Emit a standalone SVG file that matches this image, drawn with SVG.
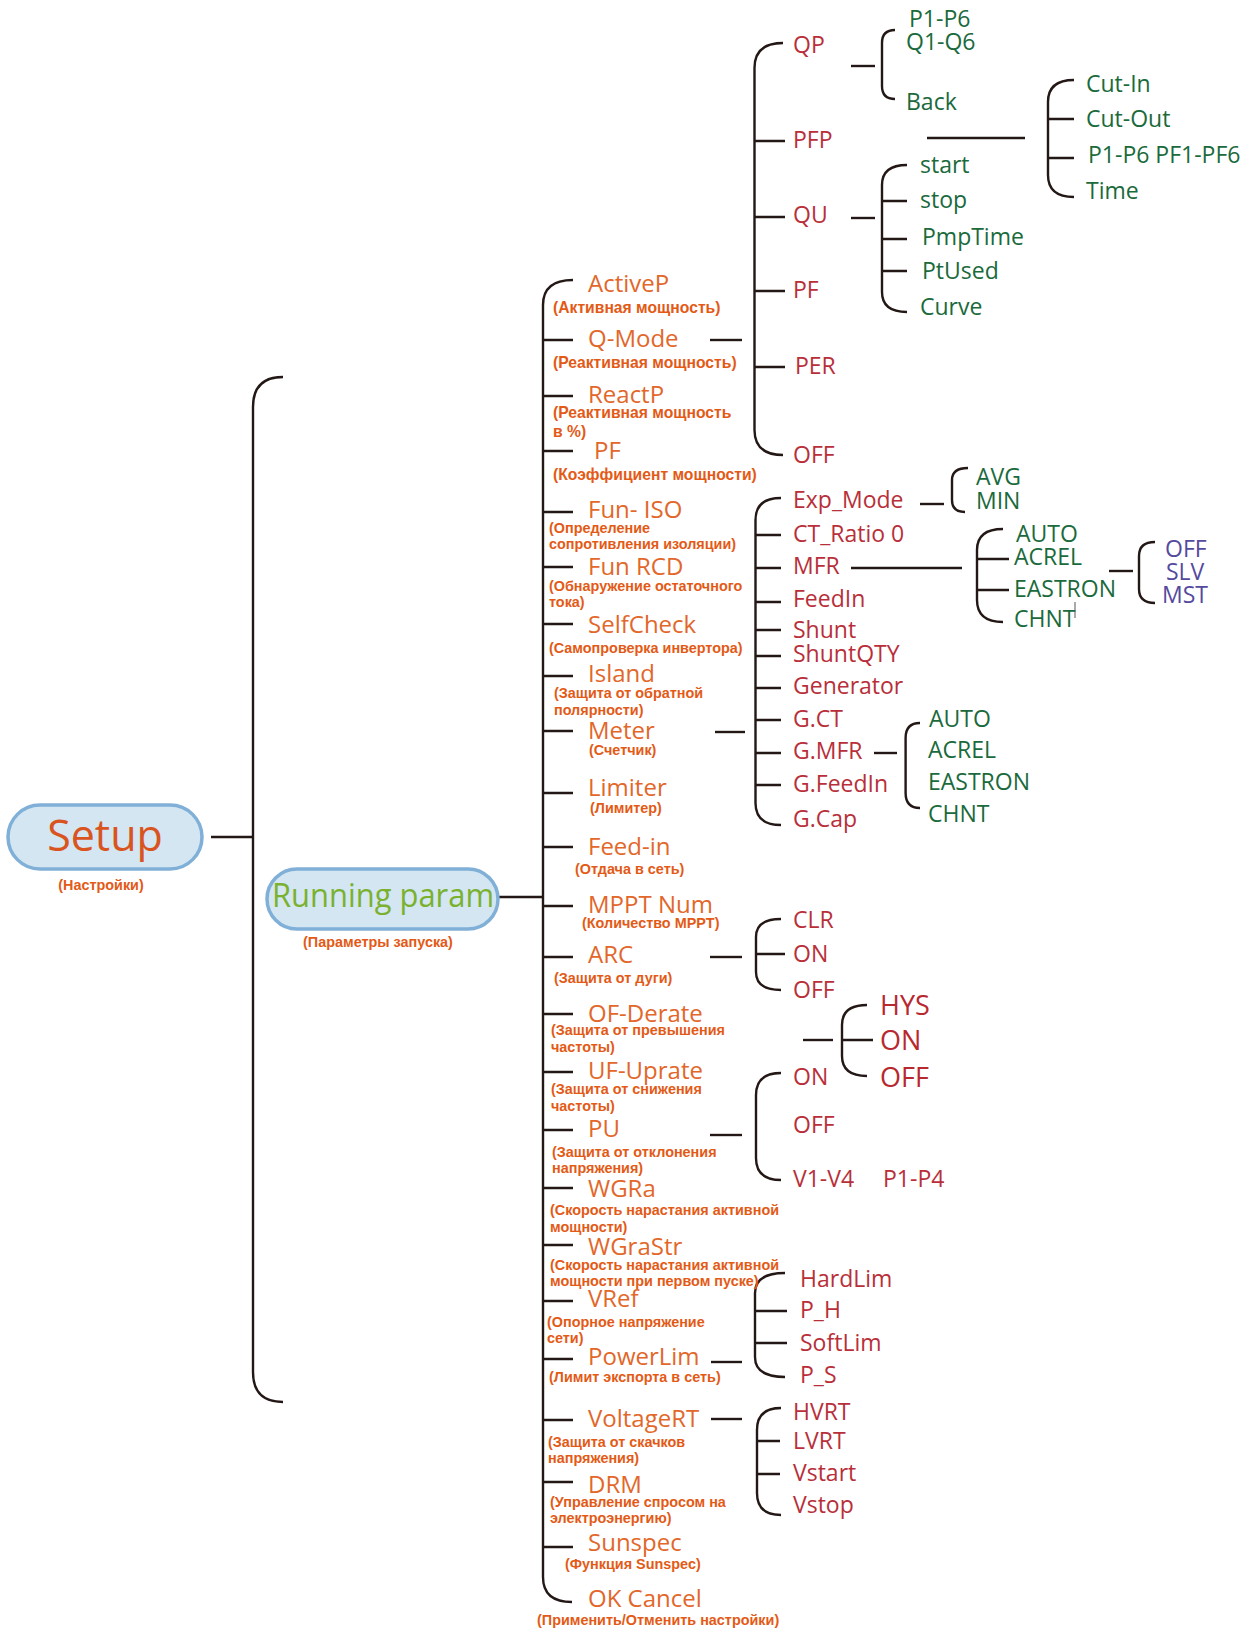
<svg xmlns="http://www.w3.org/2000/svg" width="1259" height="1629" viewBox="0 0 1259 1629">
<style>
.ln{fill:none;stroke:#231815;stroke-width:2.4;stroke-linecap:butt}
.pill{fill:#d3e6f1;stroke:#80b0d8;stroke-width:3.5}
.l2{font-family:"Open Sans","Noto Sans",sans-serif;font-size:24px;fill:#e2672a}
.sub{font-family:"Liberation Sans",Arial,sans-serif;font-size:14.4px;font-weight:bold;fill:#e35a16}
.big{font-size:15.7px}
.r{font-family:"Open Sans","Noto Sans",sans-serif;font-size:23px;fill:#b82f3a}
.rb{font-family:"Open Sans","Noto Sans",sans-serif;font-size:27px;fill:#b8282f}
.g{font-family:"Open Sans","Noto Sans",sans-serif;font-size:23px;fill:#1a6a3c}
.p{font-family:"Open Sans","Noto Sans",sans-serif;font-size:23px;fill:#55499e}
</style>
<rect width="1259" height="1629" fill="#ffffff"/>
<g id="connectors">
<path class="ln" d="M211 837H253"/>
<path class="ln" d="M283 377Q253 377 253 407V1372Q253 1402 283 1402"/>
<path class="ln" d="M498 897H543"/>
<path class="ln" d="M573 280Q543 280 543 305V1577Q543 1602 572 1602"/>
<path class="ln" d="M543 340H573M543 396H573M543 451H573M543 512H573M543 567H573M543 624H573M543 676H573M543 731H573M543 793H573M543 847H573M543 906H573M543 957H573M543 1014H573M543 1072H573M543 1130H573M543 1188H573M543 1245H573M543 1301H573M543 1359H573M543 1420H573M543 1482H573M543 1547H573"/>
<path class="ln" d="M710 340H742"/>
<path class="ln" d="M783 43Q754.5 43 754.5 68V430Q754.5 455 783 455"/>
<path class="ln" d="M754.5 141H785M754.5 217H785M754.5 291H785M754.5 367H785"/>
<path class="ln" d="M851 66H875"/>
<path class="ln" d="M895 30Q882 30 882 43V86Q882 99 895 99"/>
<path class="ln" d="M927 138H1025"/>
<path class="ln" d="M1074 80Q1048 80 1048 102V175Q1048 197 1074 197M1048 119H1074M1048 158H1074"/>
<path class="ln" d="M851 218H875"/>
<path class="ln" d="M907 165Q882 165 882 185V292Q882 312 907 312M882 201H907M882 239H907M882 271H907"/>
<path class="ln" d="M715 732H745"/>
<path class="ln" d="M781 498Q755.5 498 755.5 520V803Q755.5 825 781 825"/>
<path class="ln" d="M755.5 535H781M755.5 568H781M755.5 602H781M755.5 630H781M755.5 656H781M755.5 688H781M755.5 720H781M755.5 753H781M755.5 785H781"/>
<path class="ln" d="M920 504H944"/>
<path class="ln" d="M968 468Q952 468 952 480V500Q952 512 965 512"/>
<path class="ln" d="M851 568H962"/>
<path class="ln" d="M1003 529Q977 529 977 550V600Q977 622 1003 622M977 559H1009M977 590H1009"/>
<path class="ln" d="M1109 571H1133"/>
<path class="ln" d="M1155 542Q1139 542 1139 556V589Q1139 603 1155 603"/>
<path d="M1075 602V618" stroke="#555" stroke-width="1" fill="none"/>
<path class="ln" d="M874 753H897"/>
<path class="ln" d="M920 723Q905.6 723 905.6 738V793Q905.6 808 920 808"/>
<path class="ln" d="M710 957H742"/>
<path class="ln" d="M781 919Q756 919 756 937V972Q756 990 781 990M756 954H785"/>
<path class="ln" d="M803 1040H833"/>
<path class="ln" d="M867 1005Q842 1005 842 1025V1056Q842 1076 867 1076M842 1040H873"/>
<path class="ln" d="M710 1135H742"/>
<path class="ln" d="M781 1073Q756 1073 756 1095V1158Q756 1180 781 1180"/>
<path class="ln" d="M711 1362H742"/>
<path class="ln" d="M785 1273Q755 1273 755 1293V1357Q755 1377 785 1377M755 1311H787M755 1343H787"/>
<path class="ln" d="M711 1419H742"/>
<path class="ln" d="M781 1408Q757 1408 757 1430V1493Q757 1515 781 1515M757 1441H780M757 1474H780"/>
</g>
<g id="setup">
<rect class="pill" x="8" y="805" width="194" height="64" rx="32"/>
<text x="105" y="851" text-anchor="middle" font-family="Open Sans, Noto Sans, sans-serif" font-size="43" fill="#d9541e">Setup</text>
<text class="sub" x="101" y="890" text-anchor="middle" font-size="16.5">(Настройки)</text>
</g>
<g id="running-param">
<rect class="pill" x="267" y="869" width="231" height="60" rx="30"/>
<text x="272" y="907" textLength="222" lengthAdjust="spacingAndGlyphs" font-family="Open Sans, Noto Sans, sans-serif" font-size="32" fill="#7ab12f">Running param</text>
<text class="sub" x="378" y="947" text-anchor="middle" font-size="16.8" fill="#7ab12f">(Параметры запуска)</text>
</g>
<g id="activep"><text class="l2" x="588" y="292">ActiveP</text><text class="sub big" x="553" y="313">(Активная мощность)</text></g>
<g id="q-mode"><text class="l2" x="588" y="347">Q-Mode</text><text class="sub big" x="553" y="368">(Реактивная мощность)</text></g>
<g id="reactp"><text class="l2" x="588" y="403">ReactP</text><text class="sub big" x="553" y="418">(Реактивная мощность</text><text class="sub big" x="553" y="437">в %)</text></g>
<g id="pf"><text class="l2" x="594" y="459">PF</text><text class="sub big" x="553" y="480">(Коэффициент мощности)</text></g>
<g id="fun-iso"><text class="l2" x="588" y="518">Fun- ISO</text><text class="sub" x="549" y="533">(Определение</text><text class="sub" x="549" y="549">сопротивления изоляции)</text></g>
<g id="fun-rcd"><text class="l2" x="588" y="575">Fun RCD</text><text class="sub" x="549" y="591">(Обнаружение остаточного</text><text class="sub" x="549" y="607">тока)</text></g>
<g id="selfcheck"><text class="l2" x="588" y="633">SelfCheck</text><text class="sub" x="549" y="653">(Самопроверка инвертора)</text></g>
<g id="island"><text class="l2" x="588" y="682">Island</text><text class="sub" x="554" y="698">(Защита от обратной</text><text class="sub" x="554" y="715">полярности)</text></g>
<g id="meter"><text class="l2" x="588" y="739">Meter</text><text class="sub" x="589" y="755">(Счетчик)</text></g>
<g id="limiter"><text class="l2" x="588" y="796">Limiter</text><text class="sub" x="590" y="813">(Лимитер)</text></g>
<g id="feed-in"><text class="l2" x="588" y="855">Feed-in</text><text class="sub" x="575" y="874">(Отдача в сеть)</text></g>
<g id="mppt-num"><text class="l2" x="588" y="913">MPPT Num</text><text class="sub" x="582" y="928">(Количество MPPT)</text></g>
<g id="arc"><text class="l2" x="588" y="963">ARC</text><text class="sub" x="554" y="983">(Защита от дуги)</text></g>
<g id="of-derate"><text class="l2" x="588" y="1022">OF-Derate</text><text class="sub" x="551" y="1035">(Защита от превышения</text><text class="sub" x="551" y="1052">частоты)</text></g>
<g id="uf-uprate"><text class="l2" x="588" y="1079">UF-Uprate</text><text class="sub" x="551" y="1094">(Защита от снижения</text><text class="sub" x="551" y="1111">частоты)</text></g>
<g id="pu"><text class="l2" x="588" y="1137">PU</text><text class="sub" x="552" y="1157">(Защита от отклонения</text><text class="sub" x="552" y="1173">напряжения)</text></g>
<g id="wgra"><text class="l2" x="588" y="1197">WGRa</text><text class="sub" x="550" y="1215">(Скорость нарастания активной</text><text class="sub" x="550" y="1232">мощности)</text></g>
<g id="wgrastr"><text class="l2" x="588" y="1255">WGraStr</text><text class="sub" x="550" y="1270">(Скорость нарастания активной</text><text class="sub" x="550" y="1286">мощности при первом пуске)</text></g>
<g id="vref"><text class="l2" x="588" y="1307">VRef</text><text class="sub" x="547" y="1327">(Опорное напряжение</text><text class="sub" x="547" y="1343">сети)</text></g>
<g id="powerlim"><text class="l2" x="588" y="1365">PowerLim</text><text class="sub" x="549" y="1382">(Лимит экспорта в сеть)</text></g>
<g id="voltagert"><text class="l2" x="588" y="1427">VoltageRT</text><text class="sub" x="548" y="1447">(Защита от скачков</text><text class="sub" x="548" y="1463">напряжения)</text></g>
<g id="drm"><text class="l2" x="588" y="1493">DRM</text><text class="sub" x="550" y="1507">(Управление спросом на</text><text class="sub" x="550" y="1523">электроэнергию)</text></g>
<g id="sunspec"><text class="l2" x="588" y="1551">Sunspec</text><text class="sub" x="565" y="1569">(Функция Sunspec)</text></g>
<g id="ok-cancel"><text class="l2" x="588" y="1607">OK Cancel</text><text class="sub" x="537" y="1625">(Применить/Отменить настройки)</text></g>
<g id="qmode-options">
<text class="r" x="793" y="53">QP</text>
<text class="r" x="793" y="148">PFP</text>
<text class="r" x="793" y="223">QU</text>
<text class="r" x="793" y="298">PF</text>
<text class="r" x="795" y="374">PER</text>
<text class="r" x="793" y="463">OFF</text>
</g>
<g id="qp-options">
<text class="g" x="909" y="27">P1-P6</text>
<text class="g" x="906" y="50">Q1-Q6</text>
<text class="g" x="906" y="110">Back</text>
</g>
<g id="pfp-options">
<text class="g" x="1086" y="92">Cut-In</text>
<text class="g" x="1086" y="127">Cut-Out</text>
<text class="g" x="1088" y="163">P1-P6 PF1-PF6</text>
<text class="g" x="1086" y="199">Time</text>
</g>
<g id="qu-options">
<text class="g" x="920" y="173">start</text>
<text class="g" x="920" y="208">stop</text>
<text class="g" x="922" y="245">PmpTime</text>
<text class="g" x="922" y="279">PtUsed</text>
<text class="g" x="920" y="315">Curve</text>
</g>
<g id="meter-options">
<text class="r" x="793" y="508">Exp_Mode</text>
<text class="r" x="793" y="542">CT_Ratio 0</text>
<text class="r" x="793" y="574">MFR</text>
<text class="r" x="793" y="607">FeedIn</text>
<text class="r" x="793" y="638">Shunt</text>
<text class="r" x="793" y="662">ShuntQTY</text>
<text class="r" x="793" y="694">Generator</text>
<text class="r" x="793" y="727">G.CT</text>
<text class="r" x="793" y="759">G.MFR</text>
<text class="r" x="793" y="792">G.FeedIn</text>
<text class="r" x="793" y="827">G.Cap</text>
</g>
<g id="exp-options">
<text class="g" x="976" y="485">AVG</text>
<text class="g" x="976" y="509">MIN</text>
</g>
<g id="mfr-options">
<text class="g" x="1016" y="542">AUTO</text>
<text class="g" x="1014" y="565">ACREL</text>
<text class="g" x="1014" y="597">EASTRON</text>
<text class="g" x="1014" y="627">CHNT</text>
</g>
<g id="eastron-options">
<text class="p" x="1165" y="557">OFF</text>
<text class="p" x="1166" y="580">SLV</text>
<text class="p" x="1162" y="603">MST</text>
</g>
<g id="gmfr-options">
<text class="g" x="929" y="727">AUTO</text>
<text class="g" x="928" y="758">ACREL</text>
<text class="g" x="928" y="790">EASTRON</text>
<text class="g" x="928" y="822">CHNT</text>
</g>
<g id="arc-options">
<text class="r" x="793" y="928">CLR</text>
<text class="r" x="793" y="962">ON</text>
<text class="r" x="793" y="998">OFF</text>
</g>
<g id="hys-options">
<text class="rb" x="880" y="1015">HYS</text>
<text class="rb" x="880" y="1050">ON</text>
<text class="rb" x="880" y="1087">OFF</text>
</g>
<g id="pu-options">
<text class="r" x="793" y="1085">ON</text>
<text class="r" x="793" y="1133">OFF</text>
<text class="r" x="793" y="1187">V1-V4</text>
<text class="r" x="883" y="1187">P1-P4</text>
</g>
<g id="powerlim-options">
<text class="r" x="800" y="1287">HardLim</text>
<text class="r" x="800" y="1318">P_H</text>
<text class="r" x="800" y="1351">SoftLim</text>
<text class="r" x="800" y="1383">P_S</text>
</g>
<g id="voltagert-options">
<text class="r" x="793" y="1420">HVRT</text>
<text class="r" x="793" y="1449">LVRT</text>
<text class="r" x="793" y="1481">Vstart</text>
<text class="r" x="793" y="1513">Vstop</text>
</g>
</svg>
